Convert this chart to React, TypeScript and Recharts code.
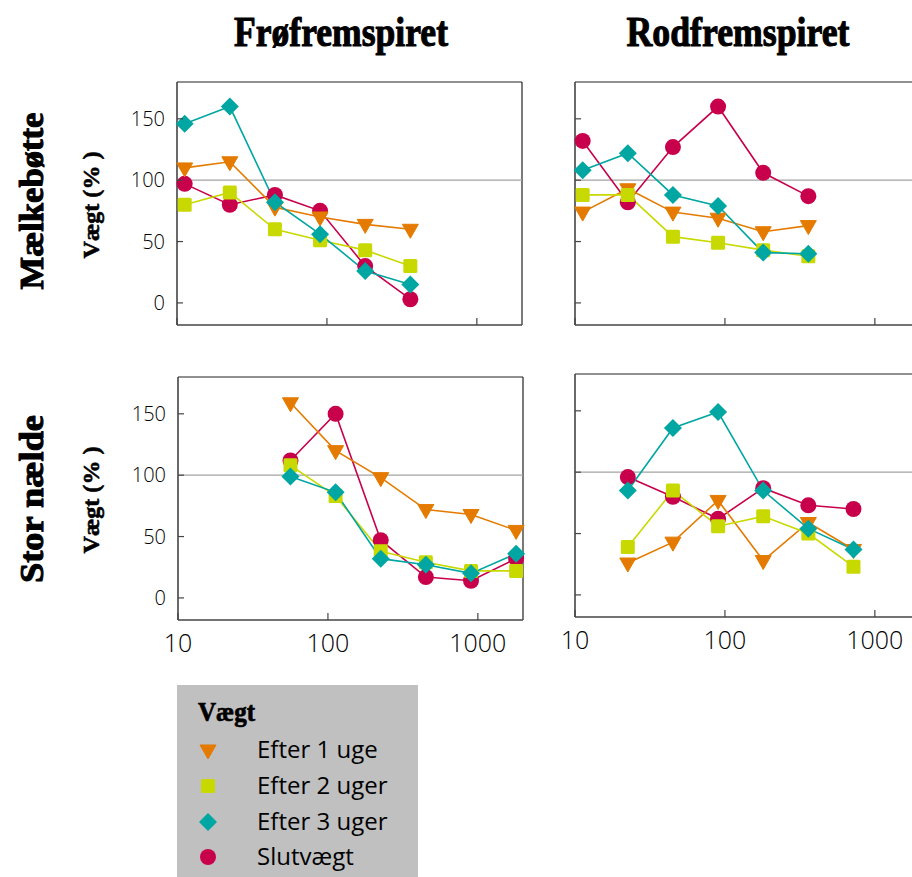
import React from 'react';
import { LineChart, Line, XAxis, YAxis, ReferenceLine } from 'recharts';

// Doser (x) for hvert panel
const doserSmaa = [11.25, 22.5, 45, 90, 180, 360];
const doserStorFroe = [56.25, 112.5, 225, 450, 900, 1800];
const doserStorRod = [22.5, 45, 90, 180, 360, 720];

// Mælkebøtte, frøfremspiret
const maelkFroeUge1 = [110, 115, 78, 70, 64, 60];
const maelkFroeUge2 = [80, 90, 60, 51, 43, 30];
const maelkFroeUge3 = [146, 160, 82, 56, 26, 15];
const maelkFroeSlut = [97, 80, 88, 75, 30, 3];

// Mælkebøtte, rodfremspiret
const maelkRodUge1 = [74, 93, 74, 69, 58, 63];
const maelkRodUge2 = [88, 88, 54, 49, 43, 38];
const maelkRodUge3 = [108, 122, 88, 79, 41, 40];
const maelkRodSlut = [132, 82, 127, 160, 106, 87];

// Stor nælde, frøfremspiret
const naeldeFroeUge1 = [159, 120, 98, 72, 68, 55];
const naeldeFroeUge2 = [108, 83, 38, 29, 22, 22];
const naeldeFroeUge3 = [99, 86, 32, 27, 20, 36];
const naeldeFroeSlut = [112, 150, 47, 17, 14, 32];

// Stor nælde, rodfremspiret
const naeldeRodUge1 = [26, 43, 77, 28, 59, 37];
const naeldeRodUge2 = [39, 85, 56, 64, 50, 23];
const naeldeRodUge3 = [85, 136, 149, 85, 54, 37];
const naeldeRodSlut = [96, 80, 62, 87, 73, 70];

const serieNavne = ['Efter 1 uge', 'Efter 2 uger', 'Efter 3 uger', 'Slutvægt'];
const serieFarver = ['#e47b00', '#c8d900', '#00a6a2', '#c8004b'];
const serieFormer = ['triangle', 'square', 'diamond', 'circle'];
// rød tegnes først, turkis øverst
const tegneOrden = [3, 0, 1, 2];

const xTicks = [10, 100, 1000];
const yTicks = [0, 50, 100, 150];
const xDomain = [10, 2000];
const yDomain = [-18, 180];

const PLOT_W = 345;
const PLOT_H = 243;
const Y_AXIS_W = 70;
const X_AXIS_H = 45;
const M_TOP = 14;
const M_RIGHT = 14;

const sansFont = '"Open Sans", "DejaVu Sans", sans-serif';
const serifFont = '"Liberation Serif", "DejaVu Serif", serif';

const buildRows = (x: number[], series: number[][]) =>
  x.map((v, i) => ({ x: v, s0: series[0][i], s1: series[1][i], s2: series[2][i], s3: series[3][i] }));

const Marker = ({ kind, cx, cy, color }: { kind: string; cx: number; cy: number; color: string }) => {
  if (kind === 'triangle') {
    return <polygon points={`${cx - 8},${cy - 5} ${cx + 8},${cy - 5} ${cx},${cy + 9}`} fill={color} stroke={color} strokeWidth={1} strokeLinejoin="round" />;
  }
  if (kind === 'square') {
    return <rect x={cx - 7} y={cy - 7} width={14} height={14} rx={1.5} fill={color} />;
  }
  if (kind === 'diamond') {
    return <polygon points={`${cx},${cy - 9} ${cx + 9},${cy} ${cx},${cy + 9} ${cx - 9},${cy}`} fill={color} />;
  }
  return <circle cx={cx} cy={cy} r={8} fill={color} />;
};

const yTick = (show: boolean) => (p: any) => (
  <g key={`y-${p.payload.value}`}>
    <line x1={p.x} y1={p.y} x2={p.x + 6} y2={p.y} stroke="#444" strokeWidth={1.2} />
    {show && (
      <text x={p.x - 12} y={p.y} dy="0.36em" textAnchor="end" fontFamily={sansFont} fontWeight={300} fontSize={20} fill="#000">
        {p.payload.value}
      </text>
    )}
  </g>
);

const xTick = (show: boolean) => (p: any) => (
  <g key={`x-${p.payload.value}`}>
    <line x1={p.x} y1={p.y} x2={p.x} y2={p.y - 7} stroke="#444" strokeWidth={1.2} />
    {show && (
      <text x={p.x} y={p.y + 32} textAnchor="middle" fontFamily={sansFont} fontWeight={300} fontSize={25} fill="#000">
        {p.payload.value}
      </text>
    )}
  </g>
);

type PanelProps = { left: number; top: number; rows: any[]; yLabels: boolean; xLabels: boolean };

const Panel = ({ left, top, rows, yLabels, xLabels }: PanelProps) => (
  <div style={{ position: 'absolute', left: left - Y_AXIS_W, top: top - M_TOP }}>
    <LineChart
      width={Y_AXIS_W + PLOT_W + M_RIGHT}
      height={M_TOP + PLOT_H + X_AXIS_H}
      data={rows}
      margin={{ top: M_TOP, right: M_RIGHT, left: 0, bottom: 0 }}
    >
      <XAxis
        dataKey="x"
        type="number"
        scale="log"
        domain={xDomain}
        ticks={xTicks}
        interval={0}
        height={X_AXIS_H}
        tickSize={0}
        tickMargin={0}
        tickLine={false}
        axisLine={{ stroke: '#444', strokeWidth: 1.6 }}
        tick={xTick(xLabels)}
      />
      <YAxis
        type="number"
        domain={yDomain}
        ticks={yTicks}
        interval={0}
        width={Y_AXIS_W}
        tickSize={0}
        tickMargin={0}
        tickLine={false}
        axisLine={{ stroke: '#444', strokeWidth: 1.6 }}
        tick={yTick(yLabels)}
      />
      {/* ramme: top og højre kant */}
      <ReferenceLine y={yDomain[1]} stroke="#222" strokeWidth={1.2} />
      <ReferenceLine x={xDomain[1]} stroke="#222" strokeWidth={1.2} />
      <ReferenceLine y={100} stroke="#a3a3a3" strokeWidth={1.3} />
      {tegneOrden.map((i) => (
        <Line
          key={i}
          type="linear"
          dataKey={`s${i}`}
          name={serieNavne[i]}
          stroke={serieFarver[i]}
          strokeWidth={1.6}
          isAnimationActive={false}
          activeDot={false}
          dot={(p: any) => (
            <Marker key={`${i}-${p.index}`} kind={serieFormer[i]} cx={p.cx} cy={p.cy} color={serieFarver[i]} />
          )}
        />
      ))}
    </LineChart>
  </div>
);

const rowsMaelkFroe = buildRows(doserSmaa, [maelkFroeUge1, maelkFroeUge2, maelkFroeUge3, maelkFroeSlut]);
const rowsMaelkRod = buildRows(doserSmaa, [maelkRodUge1, maelkRodUge2, maelkRodUge3, maelkRodSlut]);
const rowsNaeldeFroe = buildRows(doserStorFroe, [naeldeFroeUge1, naeldeFroeUge2, naeldeFroeUge3, naeldeFroeSlut]);
const rowsNaeldeRod = buildRows(doserStorRod, [naeldeRodUge1, naeldeRodUge2, naeldeRodUge3, naeldeRodSlut]);

const legendRows = [750, 786, 822, 857];

export default function App() {
  return (
    <div style={{ position: 'fixed', left: 0, top: 0, width: 912, height: 877, overflow: 'hidden', background: '#fff' }}>
      <Panel left={177} top={82} rows={rowsMaelkFroe} yLabels xLabels={false} />
      <Panel left={575} top={82} rows={rowsMaelkRod} yLabels={false} xLabels={false} />
      <Panel left={178} top={377} rows={rowsNaeldeFroe} yLabels xLabels />
      <Panel left={575} top={374} rows={rowsNaeldeRod} yLabels={false} xLabels />

      <svg width={912} height={877} style={{ position: 'absolute', left: 0, top: 0, pointerEvents: 'none' }}>
        {/* tunge, smalle overskrifter: fed serif med lidt ekstra streg */}
        <g fontFamily={serifFont} fontWeight="bold" fill="#000" stroke="#000" strokeLinejoin="round">
          <text x={341} y={46} fontSize={43} strokeWidth={1.1} textAnchor="middle" textLength={214} lengthAdjust="spacingAndGlyphs">
            Frøfremspiret
          </text>
          <text x={738} y={46} fontSize={43} strokeWidth={1.1} textAnchor="middle" textLength={223} lengthAdjust="spacingAndGlyphs">
            Rodfremspiret
          </text>
          <text x={43} y={201} fontSize={33} strokeWidth={1} textAnchor="middle" textLength={177} lengthAdjust="spacingAndGlyphs" transform="rotate(-90 43 201)">
            Mælkebøtte
          </text>
          <text x={43} y={499} fontSize={33} strokeWidth={1} textAnchor="middle" textLength={168} lengthAdjust="spacingAndGlyphs" transform="rotate(-90 43 499)">
            Stor nælde
          </text>
          <text x={99} y={205} fontSize={24} strokeWidth={0.6} textAnchor="middle" textLength={107} lengthAdjust="spacingAndGlyphs" transform="rotate(-90 99 205)">
            Vægt (% )
          </text>
          <text x={99} y={500} fontSize={24} strokeWidth={0.6} textAnchor="middle" textLength={107} lengthAdjust="spacingAndGlyphs" transform="rotate(-90 99 500)">
            Vægt (% )
          </text>
        </g>

        <rect x={177} y={685} width={241} height={200} fill="#c0c0c0" />
        <text x={198} y={721} fontFamily={serifFont} fontWeight="bold" fontSize={27} stroke="#000" strokeWidth={0.7} textLength={57} lengthAdjust="spacingAndGlyphs" fill="#000">
          Vægt
        </text>
        {serieNavne.map((navn, i) => (
          <g key={navn}>
            <Marker kind={serieFormer[i]} cx={208} cy={legendRows[i]} color={serieFarver[i]} />
            <text x={257} y={legendRows[i] + 8} fontFamily={sansFont} fontWeight={400} fontSize={24} fill="#000">
              {navn}
            </text>
          </g>
        ))}
      </svg>
    </div>
  );
}
